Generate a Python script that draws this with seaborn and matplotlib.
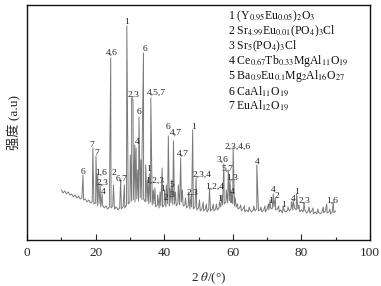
import numpy as np
import pandas as pd
import matplotlib
matplotlib.use("Agg")
import matplotlib.pyplot as plt
import seaborn as sns

# background of the XRD pattern, read every 0.5 deg from 10 to 90 deg
baseline_start, baseline_step = 10.0, 0.5
baseline = [
    50, 47, 49, 46, 48, 45, 46, 43, 45, 42, 44, 41, 42, 40, 41, 38, 40, 37, 38, 36,
    37, 34, 36, 33, 35, 32, 34, 31, 33, 32, 34, 31, 33, 30, 32, 31, 33, 32, 35, 36,
    38, 39, 40, 38, 41, 39, 42, 40, 41, 38, 39, 36, 38, 35, 36, 33, 35, 32, 34, 33,
    35, 33, 36, 34, 37, 35, 36, 34, 37, 35, 38, 34, 35, 32, 34, 31, 33, 31, 33, 30,
    32, 29, 31, 29, 31, 28, 31, 29, 31, 29, 31, 30, 32, 33, 35, 36, 38, 37, 39, 37,
    36, 34, 33, 31, 32, 29, 31, 28, 30, 28, 30, 28, 30, 29, 31, 29, 30, 28, 30, 28,
    31, 30, 32, 31, 33, 30, 31, 28, 30, 27, 29, 28, 30, 29, 31, 30, 32, 30, 31, 28,
    30, 28, 30, 27, 29, 27, 29, 26, 28, 26, 28, 26, 28, 27, 29, 27, 28, 26, 28, 27,
    29,
]

# diffraction peaks: position (2theta) and apex intensity
peak_pos = [
    16.3, 19.2, 20.1, 20.6, 21.3, 21.9, 24.4, 25.2, 27.3, 28.4,
    29.1, 30.1, 30.5, 30.9, 31.4, 31.8, 32.3, 32.65, 33.2, 33.5,
    33.95, 34.6, 35.2, 35.7, 36.1, 36.8, 37.3, 38.1, 38.8, 39.4,
    40.1, 40.6, 41.2, 41.7, 42.2, 42.7, 43.3, 44.1, 44.8, 45.3,
    46.2, 47.1, 47.8, 48.3, 49.3, 50.3, 51.4, 52.3, 53.2, 54.3,
    55.2, 56.1, 56.8, 57.4, 58.1, 58.7, 59.2, 59.6, 60.1, 60.7,
    61.4, 62.3, 63.4, 64.8, 66.1, 67.0, 68.2, 69.4, 70.4, 70.9,
    71.8, 72.4, 73.4, 74.7, 76.1, 77.1, 77.6, 78.6, 79.3, 80.8,
    82.2, 83.4, 84.8, 86.4, 87.4, 88.3, 89.3,
]
peak_int = [
    65, 92, 84, 66, 56, 46, 182, 55, 60, 55,
    214, 85, 142, 140, 95, 92, 70, 123, 80, 78,
    187, 75, 60, 66, 142, 50, 52, 45, 48, 72,
    50, 55, 104, 52, 60, 99, 48, 55, 82, 50,
    42, 48, 44, 110, 62, 40, 38, 36, 51, 36,
    36, 38, 45, 76, 50, 70, 60, 48, 93, 42,
    36, 35, 34, 33, 34, 75, 33, 34, 36, 40,
    46, 42, 34, 34, 33, 38, 40, 46, 35, 37,
    33, 32, 31, 33, 36, 31, 38,
]

# phase labels: text, 2theta, intensity
phase_labels = [
    ("1", 29.1, 218), ("4,6", 24.7, 187), ("6", 34.3, 191), ("2,3", 30.9, 145),
    ("4,5,7", 37.6, 147), ("6", 32.7, 128), ("4", 32.0, 98), ("1", 35.4, 71),
    ("6", 41.2, 113), ("4,7", 43.4, 107), ("1", 48.5, 113), ("4,7", 45.4, 86),
    ("7", 19.0, 95), ("7", 20.3, 87), ("6", 16.4, 68), ("1,6", 21.5, 67),
    ("2,3", 22.1, 57), ("4", 22.2, 48), ("2", 25.4, 67), ("6,7", 27.6, 61),
    ("1,2,3", 37.3, 59), ("1", 39.4, 51), ("2", 40.6, 42), ("5", 42.2, 55),
    ("3", 42.3, 45), ("2,3", 48.3, 47), ("2,3,4", 50.9, 65), ("1,2,4", 54.8, 53),
    ("1", 56.1, 41), ("2,3,4,6", 61.5, 93), ("3,6", 57.1, 80), ("5,7", 58.3, 71),
    ("1,3", 59.7, 62), ("4", 59.7, 48), ("4", 67.0, 78), ("4", 71.8, 50),
    ("2", 72.8, 44), ("1", 71.0, 39), ("1", 74.7, 35), ("4", 77.5, 41),
    ("1", 78.6, 48), ("2,3", 81.0, 39), ("1,6", 89.1, 39),
]

phases = [
    r"1 (Y$_{0.95}$Eu$_{0.05}$)$_2$O$_3$",
    r"2 Sr$_{4.99}$Eu$_{0.01}$(PO$_4$)$_3$Cl",
    r"3 Sr$_5$(PO$_4$)$_3$Cl",
    r"4 Ce$_{0.67}$Tb$_{0.33}$MgAl$_{11}$O$_{19}$",
    r"5 Ba$_{0.9}$Eu$_{0.1}$Mg$_2$Al$_{16}$O$_{27}$",
    r"6 CaAl$_{11}$O$_{19}$",
    r"7 EuAl$_{12}$O$_{19}$",
]

sns.set_style("ticks")
plt.rcParams["font.family"] = ["Liberation Serif", "Noto Sans CJK SC"]
plt.rcParams["mathtext.fontset"] = "stix"

base_x = baseline_start + baseline_step * np.arange(len(baseline))
df = pd.DataFrame({
    "two_theta": np.concatenate([base_x, peak_pos]),
    "intensity": np.concatenate([baseline, peak_int]),
}).sort_values("two_theta", kind="mergesort")

fig = plt.figure(figsize=(3.81, 2.86), dpi=100)
ax = fig.add_axes([0.071, 0.161, 0.9, 0.822])

sns.lineplot(data=df, x="two_theta", y="intensity", estimator=None, sort=False,
             color="#7a7a7a", lw=0.7, ax=ax)

for txt, x, y in phase_labels:
    ax.text(x, y, txt, fontsize=6.8, ha="center", va="center", color="#222222")

for i, s in enumerate(phases):
    ax.text(0.587, 0.95 - i * 0.063, s, transform=ax.transAxes, fontsize=8.5,
            ha="left", va="center", color="#111111")

ax.set_xlim(0, 100)
ax.set_ylim(0, 235)
ax.set_xticks([0, 20, 40, 60, 80, 100])
ax.set_xticks([10, 30, 50, 70, 90], minor=True)
ax.set_yticks([])
ax.tick_params(axis="x", direction="in", length=4, width=0.8, labelsize=9.5, pad=5)
ax.tick_params(axis="x", which="minor", direction="in", length=2, width=0.8)
for sp in ax.spines.values():
    sp.set_linewidth(1.0)
    sp.set_color("#111111")

ax.set_xlabel(r"2 $\theta$/(°)", fontsize=9.5, labelpad=6)
ax.xaxis.set_label_coords(0.53, -0.13)
ax.set_ylabel("强度 (a.u)", fontsize=9.5, labelpad=4)

fig.savefig("out.png", dpi=100)
